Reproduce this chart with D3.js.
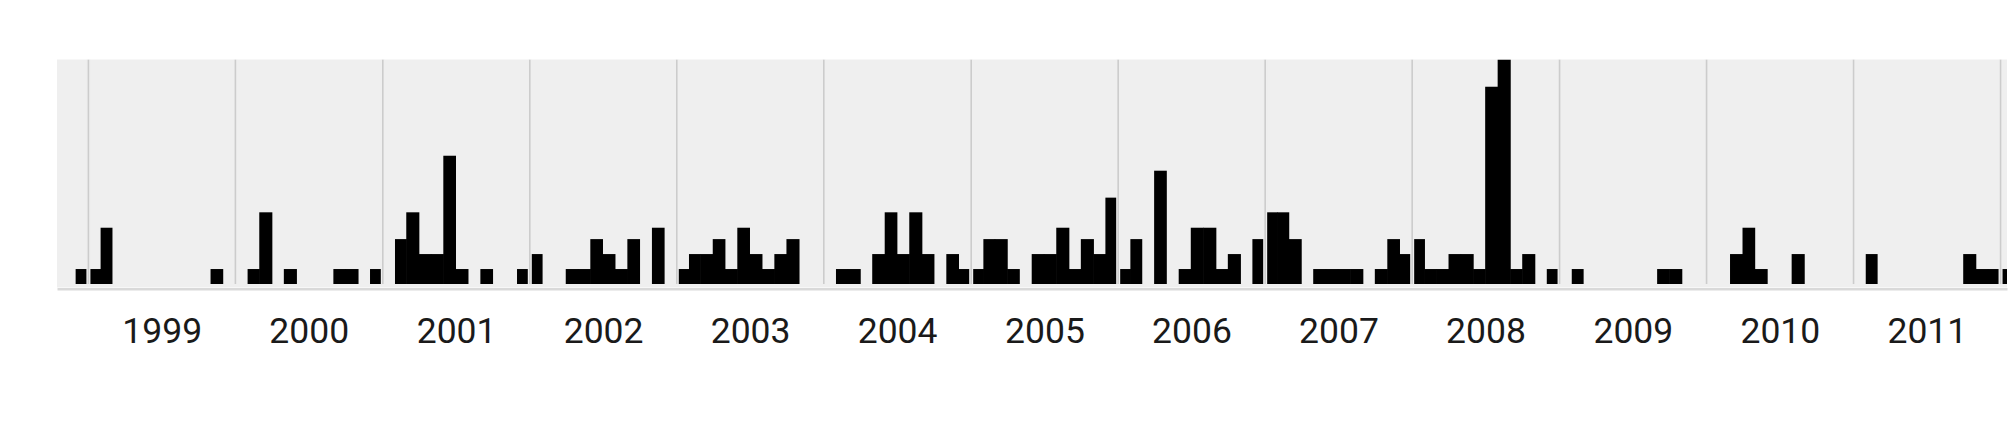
<!DOCTYPE html>
<html>
<head>
<meta charset="utf-8">
<script src="https://cdn.jsdelivr.net/npm/d3@7"></script>
<style>
  html, body { margin: 0; padding: 0; background: #ffffff; }
  svg { display: block; }
</style>
</head>
<body>
<svg id="chart" width="2015" height="426"></svg>
<script>
// ---- data (months with a bar, and their heights) ----
const barMonths = [
  "1998-12","1999-01","1999-02","1999-11",
  "2000-02","2000-03","2000-05","2000-09","2000-10","2000-12",
  "2001-02","2001-03","2001-04","2001-05","2001-06","2001-07","2001-09","2001-12",
  "2002-01","2002-04","2002-05","2002-06","2002-07","2002-08","2002-09","2002-11",
  "2003-01","2003-02","2003-03","2003-04","2003-05","2003-06","2003-07","2003-08","2003-09","2003-10",
  "2004-02","2004-03","2004-05","2004-06","2004-07","2004-08","2004-09","2004-11","2004-12",
  "2005-01","2005-02","2005-03","2005-04","2005-06","2005-07","2005-08","2005-09","2005-10","2005-11","2005-12",
  "2006-01","2006-02","2006-04","2006-06","2006-07","2006-08","2006-09","2006-10","2006-12",
  "2007-01","2007-02","2007-03","2007-05","2007-06","2007-07","2007-08","2007-10","2007-11","2007-12",
  "2008-01","2008-02","2008-03","2008-04","2008-05","2008-06","2008-07","2008-08","2008-09","2008-10","2008-12",
  "2009-02","2009-09","2009-10",
  "2010-03","2010-04","2010-05","2010-08",
  "2011-02","2011-10","2011-11","2011-12",
  "2012-01"
];
const barValues = [
  1, 1, 3.76, 1,
  1, 4.79, 1, 1, 1, 1,
  3, 4.79, 2, 2, 8.57, 1, 1, 1,
  2, 1, 1, 3, 2, 1, 3, 3.76,
  1, 2, 2, 3, 1, 3.76, 2, 1, 2, 3,
  1, 1, 2, 4.79, 2, 4.79, 2, 2, 1,
  1, 3, 3, 1, 2, 2, 3.76, 1, 3, 2, 5.77,
  1, 3, 7.57, 1, 3.76, 3.76, 1, 2, 3,
  4.79, 4.79, 3, 1, 1, 1, 1, 1, 3, 2,
  3, 1, 1, 2, 2, 1, 13.18, 15, 1, 2, 1,
  1, 1, 1,
  2, 3.76, 1, 2,
  2, 2, 1, 1,
  1
];
const yearLabels = ["1999","2000","2001","2002","2003","2004","2005","2006","2007","2008","2009","2010","2011"];
const gridYears = ["1999","2000","2001","2002","2003","2004","2005","2006","2007","2008","2009","2010","2011","2012"];
const domainStart = "1998-10-15";
const domainEnd = "2012-01-17";

// ---- layout ----
const plot = { left: 57, right: 2007, top: 59.5, bottom: 284 };
const parseMonth = d3.timeParse("%Y-%m");
const parseDay = d3.timeParse("%Y-%m-%d");
const parseYear = d3.timeParse("%Y");

const data = barMonths.map((m, i) => ({ date: parseMonth(m), value: barValues[i] }));

const x = d3.scaleTime()
  .domain([parseDay(domainStart), parseDay(domainEnd)])
  .range([plot.left, plot.right]);
const y = d3.scaleLinear()
  .domain([0, d3.max(barValues)])
  .range([plot.bottom, plot.top]);

const svg = d3.select("#chart");

svg.append("defs").append("clipPath").attr("id", "plotclip")
  .append("rect")
  .attr("x", plot.left).attr("y", plot.top)
  .attr("width", plot.right - plot.left).attr("height", 290 - plot.top);

// background
svg.append("rect")
  .attr("x", plot.left).attr("y", plot.top)
  .attr("width", plot.right - plot.left)
  .attr("height", 287.5 - plot.top)
  .attr("fill", "#efefef");

const g = svg.append("g").attr("clip-path", "url(#plotclip)");

// bars (slight overlap so neighbouring bars merge without seams)
g.selectAll("rect.bar").data(data).join("rect")
  .attr("class", "bar")
  .attr("x", d => x(d.date) - 0.3)
  .attr("width", d => x(d3.timeMonth.offset(d.date, 1)) - x(d.date) + 0.6)
  .attr("y", d => y(d.value))
  .attr("height", d => y(0) - y(d.value))
  .attr("fill", "#000");

// year gridlines (drawn over bars with a halo)
const gy = gridYears.map(s => parseYear(s));
g.selectAll("line.halo").data(gy).join("line")
  .attr("class", "halo")
  .attr("x1", d => x(d)).attr("x2", d => x(d))
  .attr("y1", plot.top).attr("y2", plot.bottom)
  .attr("stroke", "#efefef").attr("stroke-width", 4);
g.selectAll("line.grid").data(gy).join("line")
  .attr("class", "grid")
  .attr("x1", d => x(d)).attr("x2", d => x(d))
  .attr("y1", plot.top).attr("y2", plot.bottom)
  .attr("stroke", "#cccccc").attr("stroke-width", 1.6);

// x axis with year labels at mid-year
const labelDates = yearLabels.map(s => d3.timeDay.offset(parseYear(s), 182));
const axis = d3.axisBottom(x)
  .tickValues(labelDates)
  .tickFormat(d3.timeFormat("%Y"))
  .tickSize(0)
  .tickSizeOuter(0)
  .tickPadding(29.5);

const ax = svg.append("g")
  .attr("transform", "translate(0,288.7)")
  .call(axis);
ax.select(".domain").attr("stroke", "#d9d9d9").attr("stroke-width", 2.5);
ax.selectAll("text")
  .attr("font-family", "Roboto, sans-serif")
  .attr("font-size", 35.5)
  .attr("fill", "#1a1a1a");
</script>
</body>
</html>
